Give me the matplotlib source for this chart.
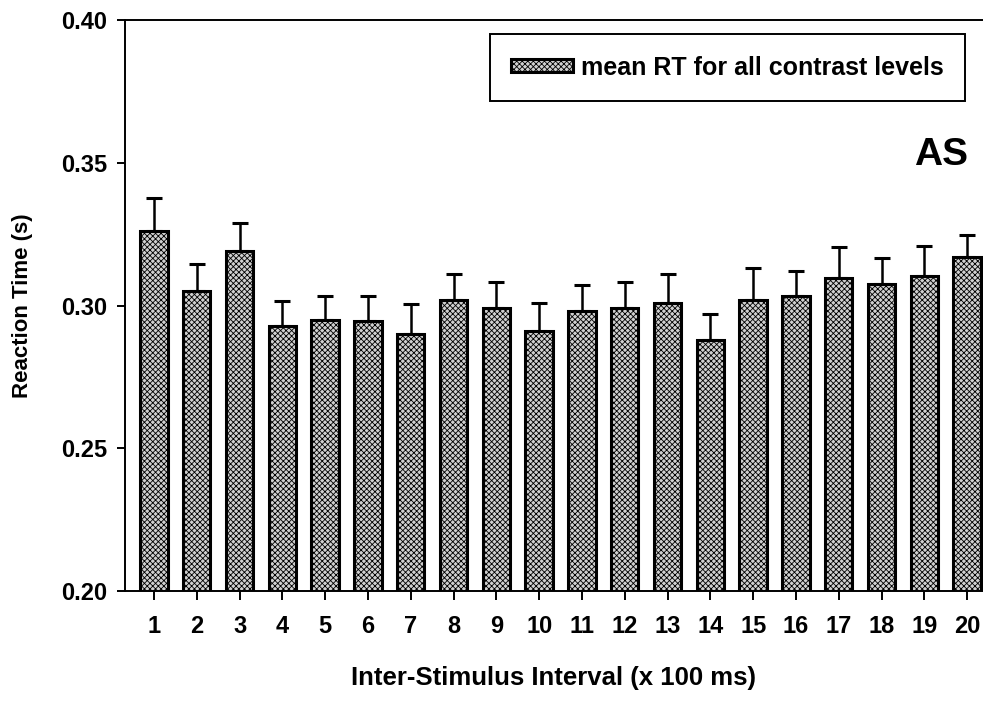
import numpy as np
import matplotlib
matplotlib.use("Agg")
import matplotlib.pyplot as plt

# inter-stimulus interval (x 100 ms)
isi = list(range(1, 21))
# mean reaction time (s) and its upper error
mean_rt = [0.326, 0.305, 0.319, 0.293, 0.295, 0.2945, 0.290, 0.302, 0.299, 0.291,
           0.298, 0.299, 0.301, 0.288, 0.302, 0.3035, 0.3095, 0.3075, 0.3105, 0.317]
rt_err = [0.0118, 0.0094, 0.0100, 0.0086, 0.0084, 0.0090, 0.0107, 0.0091, 0.0091, 0.0099,
          0.0092, 0.0094, 0.0099, 0.0089, 0.0111, 0.0086, 0.0111, 0.0092, 0.0102, 0.0077]
y_ticks = [0.20, 0.25, 0.30, 0.35, 0.40]

plt.rcParams['font.family'] = ['Liberation Sans', 'DejaVu Sans']
plt.rcParams['font.weight'] = 'bold'
plt.rcParams['hatch.linewidth'] = 0.6

fig = plt.figure(figsize=(9.83, 7.04), dpi=100)
ax = fig.add_axes([0.127, 0.1605, 0.873, 0.811])

# stippled grey bars with black outline
ax.bar(isi, mean_rt, width=0.64, color='#d0d0d0', edgecolor='black',
       linewidth=2.2, hatch='xxxxxx', label='mean RT for all contrast levels', zorder=2)
# error bars upward only
ax.errorbar(isi, mean_rt, yerr=[np.zeros(len(rt_err)), rt_err], fmt='none',
            ecolor='black', elinewidth=1.8, capsize=6, capthick=2.2, zorder=1)

ax.set_ylim(0.20, 0.40)
ax.set_xlim(0.32, 20.37)
ax.set_yticks(y_ticks)
ax.set_yticklabels([f'{v:.2f}' for v in y_ticks])
ax.set_xticks(isi)

for s in ['left', 'bottom', 'top']:
    ax.spines[s].set_linewidth(1.4)
ax.spines['right'].set_visible(False)

ax.tick_params(axis='y', direction='out', length=6, width=1.4, labelsize=17, pad=7)
ax.tick_params(axis='x', direction='out', length=6.5, width=1.4, labelsize=17, pad=11)

ax.set_xlabel('Inter-Stimulus Interval (x 100 ms)', fontsize=18.5, fontweight='bold', labelpad=20)
ax.set_ylabel('Reaction Time (s)', fontsize=16, fontweight='bold', labelpad=20)

ax.text(0.982, 0.764, 'AS', transform=ax.transAxes, ha='right', va='center',
        fontsize=28, fontweight='bold')

leg = ax.legend(loc='upper right', bbox_to_anchor=(0.979, 0.975), borderaxespad=0,
                fontsize=18, handlelength=2.5, handleheight=0.45, handletextpad=0.3,
                borderpad=0.85, fancybox=False, framealpha=1)
leg.get_frame().set_edgecolor('black')
leg.get_frame().set_linewidth(1.4)

fig.savefig('out.png', dpi=100)
